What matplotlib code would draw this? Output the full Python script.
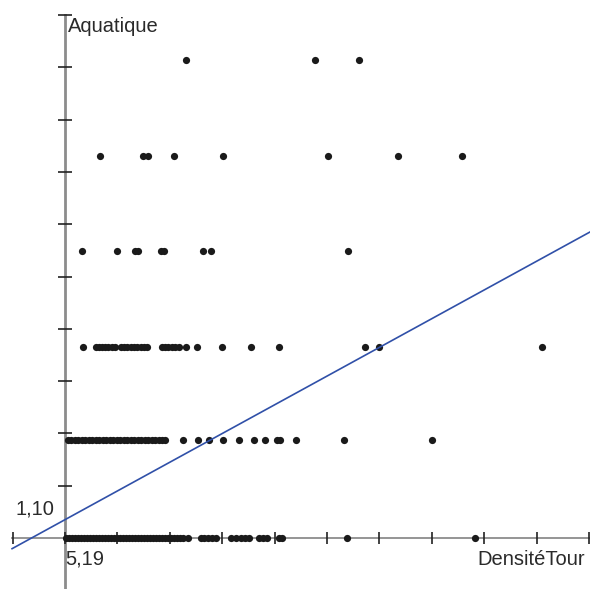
import matplotlib.pyplot as plt
import numpy as np

# origine des axes (min de chaque variable)
x0, y0 = 5.19, 1.10

# niveaux de la variable Aquatique et DensitéTour de chaque point
y_levels = [1.10, 2.97, 4.75, 6.59, 8.40, 10.24]
x_by_level = [
    [5.21, 5.27, 5.32, 5.38, 5.44, 5.50, 5.55, 5.61, 5.67, 5.72, 5.78, 5.84,
     5.90, 5.95, 6.01, 6.07, 6.13, 6.18, 6.24, 6.30, 6.35, 6.41, 6.47, 6.53,
     6.58, 6.64, 6.70, 6.75, 6.81, 6.87, 6.93, 6.98, 7.04, 7.10, 7.16, 7.21,
     7.27, 7.33, 7.38, 7.44, 7.54, 7.79, 7.84, 7.92, 7.99, 8.07, 8.36, 8.45,
     8.55, 8.62, 8.70, 8.89, 8.97, 9.05, 9.27, 9.33, 10.57, 13.01],
    [5.25, 5.30, 5.38, 5.44, 5.51, 5.57, 5.65, 5.71, 5.78, 5.84, 5.92, 5.97,
     6.05, 6.11, 6.18, 6.24, 6.32, 6.37, 6.45, 6.51, 6.58, 6.64, 6.72, 6.77,
     6.85, 6.91, 6.98, 7.04, 7.10, 7.44, 7.73, 7.94, 8.21, 8.51, 8.80, 9.01,
     9.24, 9.29, 9.60, 10.51, 12.19],
    [5.53, 5.78, 5.84, 5.90, 5.95, 6.01, 6.09, 6.14, 6.26, 6.32, 6.37, 6.45,
     6.51, 6.56, 6.64, 6.70, 6.75, 7.04, 7.10, 7.16, 7.23, 7.29, 7.37, 7.50,
     7.71, 8.19, 8.74, 9.27, 10.92, 11.18, 14.29],
    [5.51, 6.18, 6.53, 6.58, 7.02, 7.08, 7.82, 7.98, 10.59],
    [5.86, 6.68, 6.77, 7.27, 8.21, 10.21, 11.55, 12.77],
    [7.50, 9.96, 10.80],
]

# droite de régression
pente = 0.549
ordonnee = -1.399

fig = plt.figure(figsize=(5.9, 5.89), dpi=100)
ax = fig.add_axes([0, 0, 1, 1])
xmin, xmax = 3.95, 15.21
ymin, ymax = 0.125, 11.387
ax.set_xlim(xmin, xmax)
ax.set_ylim(ymin, ymax)
ax.axis('off')

xg = 4.18  # bord gauche de l'axe x et de la droite

# axes
ax.plot([xg, xmax], [y0, y0], color='#8c8c8c', lw=1.3, zorder=1)
ax.plot([x0, x0], [ymin, 11.10], color='#8c8c8c', lw=2, zorder=1)
xt = x0 + np.arange(-1, 11)
ax.vlines(xt, y0 - 0.11, y0 + 0.11, color='#222222', lw=1.2, zorder=2)
yt = y0 + np.arange(1, 11)
ax.hlines(yt, x0 - 0.14, x0 + 0.14, color='#222222', lw=1.2, zorder=2)

# points
for yv, xs in zip(y_levels, x_by_level):
    ax.plot(xs, [yv] * len(xs), 'o', color='#1a1a1a', markersize=5.2,
            markeredgewidth=0, zorder=3)

# droite
xl = np.array([xg, xmax])
ax.plot(xl, ordonnee + pente * xl, color='#3050a8', lw=1.2, zorder=4)

txt = dict(color='#2a2a2a', fontsize=14.5, family='Liberation Sans')
ax.text(x0 + 0.05, 10.88, 'Aquatique', ha='left', va='center', **txt)
ax.text(15.12, y0 - 0.22, 'DensitéTour', ha='right', va='top', **txt)
ax.text(x0 + 0.01, y0 - 0.22, '5,19', ha='left', va='top', **txt)
ax.text(x0 - 0.2, y0 + 0.55, '1,10', ha='right', va='center', **txt)

fig.savefig('out.png', dpi=100)
